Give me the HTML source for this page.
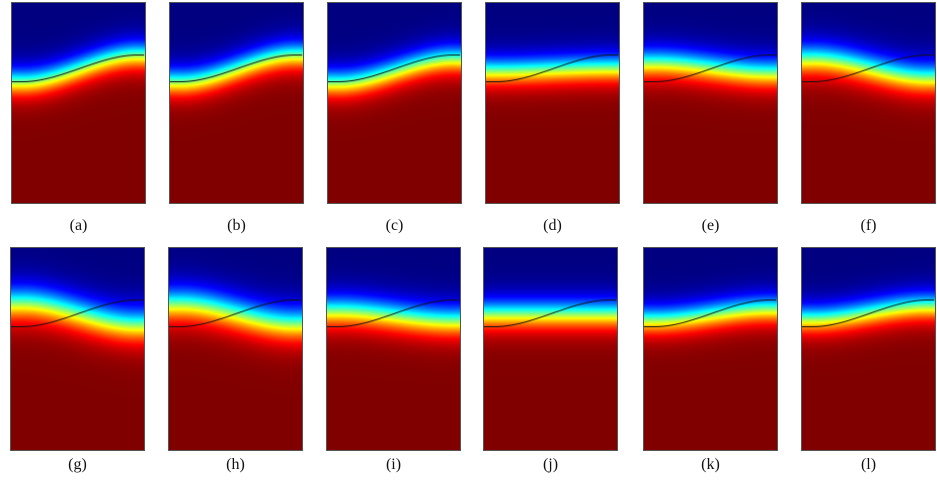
<!DOCTYPE html>
<html><head><meta charset="utf-8"><style>
body{margin:0;background:#fff;width:937px;height:488px;position:relative;overflow:hidden}
canvas{position:absolute;border:1px solid #555;box-sizing:border-box}
.l{position:absolute;font-family:"Liberation Serif",serif;font-size:16px;width:60px;text-align:center;color:#111}
</style></head><body>
<div id="w"></div>
<script>
var P=[
 [11,2,79,52,17,'a'],[169,2,79,52,17,'b'],[327,2,80,56,17,'c'],[485,2,68,65,17,'d'],[643,2,60,70,18,'e'],[801,2,56,75,19,'f'],
 [10,247,55,77,21,'g'],[168,247,56,76,21,'h'],[326,247,63,73,19,'i'],[483,247,66,66,18,'j'],[643,247,72,61,17,'k'],[801,247,71,58,17,'l']];
function cl(x){return x<0?0:x>1?1:x}
function S(u){var t=cl((u-0.08)/0.87);return t*t*(3-2*t)}
var W=135;
P.forEach(function(p){
 var H=p[1]==2?202:204;
 var c=document.createElement('canvas');c.width=W;c.height=H;
 c.style.left=p[0]+'px';c.style.top=p[1]+'px';c.style.width=W+'px';c.style.height=H+'px';
 document.body.appendChild(c);
 var ctx=c.getContext('2d'),im=ctx.createImageData(W,H),d=im.data;
 for(var x=0;x<W;x++){var u=x/(W-1),cc=p[2]+(p[3]-p[2])*S(u);
  for(var y=0;y<H;y++){var v=0.5+0.5*Math.tanh((y-cc)/p[4]);
   var r=cl(1.5-Math.abs(4*v-3)),g=cl(1.5-Math.abs(4*v-2)),b=cl(1.5-Math.abs(4*v-1));
   var i=(y*W+x)*4;d[i]=r*255;d[i+1]=g*255;d[i+2]=b*255;d[i+3]=255;}}
 ctx.putImageData(im,0,0);
 ctx.strokeStyle='#111';ctx.lineWidth=1;ctx.beginPath();
 for(var x=0;x<W;x++){var y=79.5+(52-79)*S(x/(W-1));if(x==0)ctx.moveTo(x,y);else ctx.lineTo(x,y);}
 ctx.stroke();
 var l=document.createElement('div');l.className='l';l.textContent='('+p[5]+')';
 l.style.left=(p[0]+W/2-30)+'px';l.style.top=(p[1]==2?217:456)+'px';
 document.body.appendChild(l);
});
</script>
</body></html>
